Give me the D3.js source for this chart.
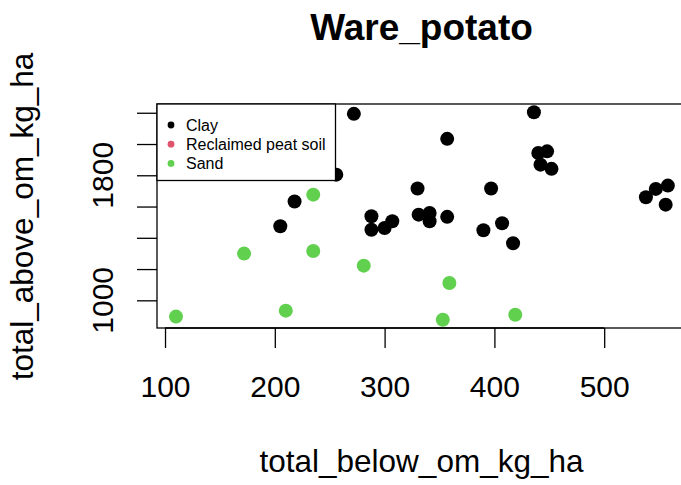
<!DOCTYPE html>
<html>
<head>
<meta charset="utf-8">
<script src="https://cdn.jsdelivr.net/npm/d3@7"></script>
<style>
  html, body { margin: 0; padding: 0; background: #fff; }
  svg { display: block; font-family: "Liberation Sans", Arial, sans-serif; }
</style>
</head>
<body>
<script>
const title = "Ware_potato";
const xLabel = "total_below_om_kg_ha";
const yLabel = "total_above_om_kg_ha";
const soilTypes = ["Clay", "Reclaimed peat soil", "Sand"];
const soilColors = ["#000000", "#DF536B", "#61D04F"];

const clayX = [272, 436, 357, 440, 448, 442, 452, 330, 397, 218, 205, 288, 288, 300, 307, 331, 341, 341, 357, 390, 407, 417, 538, 547, 558, 556, 256];
const clayY = [2193, 2203, 2033, 1943, 1953, 1868, 1841, 1715, 1715, 1632, 1474, 1538, 1452, 1463, 1506, 1548, 1559, 1506, 1534, 1448, 1493, 1365, 1659, 1713, 1734, 1612, 1804];
const sandX = [110, 172, 210, 235, 235, 281, 353, 359, 419];
const sandY = [896, 1299, 934, 1676, 1316, 1222, 876, 1111, 908];

const xTicks = [100, 200, 300, 400, 500];
const yTicks = [1000, 1200, 1400, 1600, 1800, 2000, 2200];
const yTickLabels = [1000, 1800];

const W = 681, H = 485;
const mLeft = 157, mRight = 685, mTop = 104, mBottom = 328;

const svg = d3.select("body").append("svg").attr("width", W).attr("height", H);

const x = d3.scaleLinear().domain([92.7, 573.6]).range([mLeft, mRight]);
const y = d3.scaleLinear().domain([823, 2256]).range([mBottom, mTop]);

// points
const g = svg.append("g");
const clay = clayX.map((v, i) => ({x: v, y: clayY[i]}));
const sand = sandX.map((v, i) => ({x: v, y: sandY[i]}));
g.selectAll("circle.clay").data(clay).enter().append("circle")
  .attr("cx", d => x(d.x)).attr("cy", d => y(d.y)).attr("r", 7).attr("fill", soilColors[0]);
g.selectAll("circle.sand").data(sand).enter().append("circle")
  .attr("cx", d => x(d.x)).attr("cy", d => y(d.y)).attr("r", 7).attr("fill", soilColors[2]);

// x axis
const xAxis = d3.axisBottom(x).tickValues(xTicks).tickSize(20).tickPadding(28).tickFormat(d3.format("d"));
const xg = svg.append("g").attr("transform", `translate(0,${mBottom})`).call(xAxis);
xg.select(".domain").attr("d", `M${x(100)},0H${x(500)}`).attr("stroke-width", 1.3);
xg.selectAll(".tick line").attr("stroke-width", 1.3);
xg.selectAll(".tick text").attr("font-size", 30).attr("font-family", "Liberation Sans, Arial, sans-serif").attr("fill", "#000");

// y axis
const yAxis = d3.axisLeft(y).tickValues(yTicks).tickSize(20).tickFormat("");
const yg = svg.append("g").attr("transform", `translate(${mLeft},0)`).call(yAxis);
yg.select(".domain").remove();
yg.selectAll(".tick line").attr("stroke-width", 1.3);
yg.selectAll("text.ylab").data(yTickLabels).enter().append("text")
  .attr("class", "ylab")
  .attr("transform", d => `translate(-44,${y(d)}) rotate(-90)`)
  .attr("text-anchor", "middle")
  .attr("font-size", 30)
  .attr("fill", "#000")
  .text(d => d);

// box
svg.append("rect").attr("x", mLeft).attr("y", mTop).attr("width", mRight - mLeft).attr("height", mBottom - mTop)
  .attr("fill", "none").attr("stroke", "#000").attr("stroke-width", 1.3);

// legend
const lg = svg.append("g");
lg.append("rect").attr("x", 157).attr("y", 104).attr("width", 178.5).attr("height", 76.5)
  .attr("fill", "#fff").attr("stroke", "#000").attr("stroke-width", 1.3);
soilTypes.forEach((s, i) => {
  const cy = 125 + i * 19.2;
  lg.append("circle").attr("cx", 171).attr("cy", cy).attr("r", 3.4).attr("fill", soilColors[i]);
  lg.append("text").attr("x", 186).attr("y", cy + 5.5).attr("font-size", 16).attr("fill", "#000").text(s);
});

// titles
svg.append("text").attr("x", 421.5).attr("y", 39.5).attr("text-anchor", "middle")
  .attr("font-size", 37).attr("font-weight", "bold").text(title);
svg.append("text").attr("x", 421.5).attr("y", 472).attr("text-anchor", "middle")
  .attr("font-size", 31.5).text(xLabel);
svg.append("text").attr("transform", `translate(33,216.5) rotate(-90)`).attr("text-anchor", "middle")
  .attr("font-size", 31.5).text(yLabel);
</script>
</body>
</html>
